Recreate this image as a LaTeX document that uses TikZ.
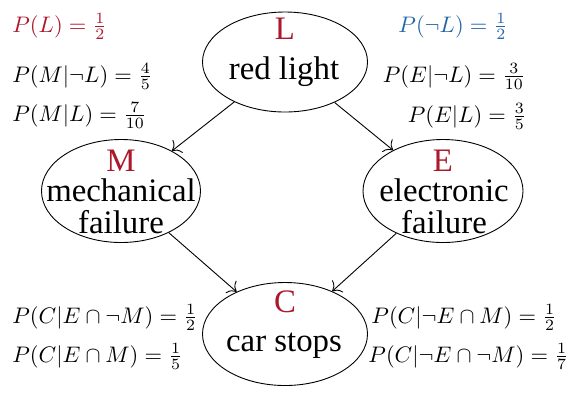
\documentclass[tikz,border=0pt]{standalone}
\usepackage{amsmath,amssymb}
\usepackage{fontspec}
\usepackage{xcolor}
\usetikzlibrary{shapes,arrows.meta,positioning}
\newfontfamily\boxfont{Liberation Serif}
\definecolor{probred}{RGB}{172,24,44}
\definecolor{probblue}{RGB}{36,102,168}
\newdimen\pxunit \pxunit=0.445pt

\begin{document}
\begin{tikzpicture}[x=\pxunit,y=-\pxunit,
    event/.style={draw,ellipse,inner sep=0pt},
    word/.style={anchor=base,font=\boxfont\fontsize{14.6}{14}\selectfont},
    letter/.style={word,text=probred},
    prob/.style={anchor=base west,inner sep=0pt},
    link/.style={-{Computer Modern Rightarrow[scale=1.4]}}]
    \useasboundingbox (0,0) rectangle (569,394);

    % the four events
    \node[event,minimum width=165\pxunit,minimum height=100\pxunit] (L) at (285,62) {};
    \node[event,minimum width=159\pxunit,minimum height=103\pxunit] (M) at (121,191) {};
    \node[event,minimum width=160\pxunit,minimum height=103\pxunit] (E) at (443,191) {};
    \node[event,minimum width=165\pxunit,minimum height=103\pxunit] (C) at (285,334) {};

    \node[letter] (Lname) at (285,39) {L};
    \node[word] (Ltext) at (284,79) {red light};
    \node[letter] (Mname) at (121,171) {M};
    \node[word] (Mtext1) at (121,201) {mechanical};
    \node[word] (Mtext2) at (121,233) {failure};
    \node[letter] (Ename) at (443,171) {E};
    \node[word] (Etext1) at (444,201) {electronic};
    \node[word] (Etext2) at (444,233) {failure};
    \node[letter] (Cname) at (285,312) {C};
    \node[word] (Ctext) at (284,351) {car stops};

    \draw[link] (L) -- (M);
    \draw[link] (L) -- (E);
    \draw[link] (M) -- (C);
    \draw[link] (E) -- (C);

    % probabilities
    \node[prob,text=probred] (pL) at (12,32) {$P(L)=\frac{1}{2}$};
    \node[prob,text=probblue] (pnL) at (398,32) {$P(\neg L)=\frac{1}{2}$};
    \node[prob] (pMnL) at (12,82) {$P(M|\neg L)=\frac{4}{5}$};
    \node[prob] (pML) at (12,121) {$P(M|L)=\frac{7}{10}$};
    \node[prob,anchor=base east] (pEnL) at (526,82) {$P(E|\neg L)=\frac{3}{10}$};
    \node[prob,anchor=base east] (pEL) at (527,122) {$P(E|L)=\frac{3}{5}$};
    \node[prob] (pC1) at (12,323) {$P(C|E\cap\neg M)=\frac{1}{2}$};
    \node[prob] (pC2) at (12,362) {$P(C|E\cap M)=\frac{1}{5}$};
    \node[prob] (pC3) at (371,323) {$P(C|\neg E\cap M)=\frac{1}{2}$};
    \node[prob] (pC4) at (368,362) {$P(C|\neg E\cap\neg M)=\frac{1}{7}$};
\end{tikzpicture}
\end{document}
